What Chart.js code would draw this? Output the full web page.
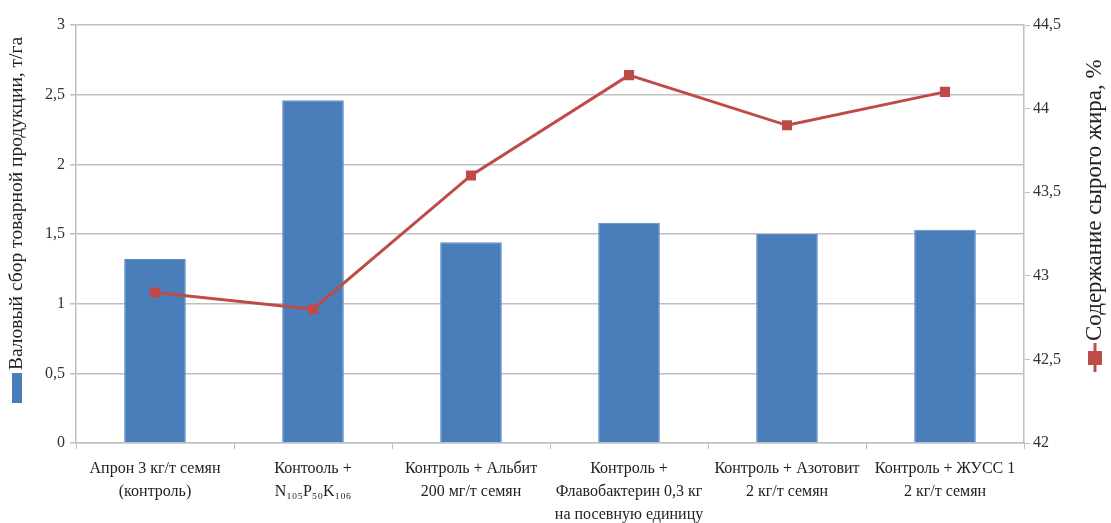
<!DOCTYPE html>
<html>
<head>
<meta charset="utf-8">
<script src="https://cdn.jsdelivr.net/npm/chart.js@4"></script>
<style>
  html, body { margin: 0; padding: 0; background: #fff; }
  #wrap { width: 1111px; height: 523px; }
</style>
</head>
<body>
<div id="wrap"><canvas id="chart" width="1111" height="523"></canvas></div>
<script>
// категории (подписи по оси X, многострочные)
const categories = [
    ['Апрон 3 кг/т семян', '(контроль)'],
    ['Контооль +', 'N₁₀₅P₅₀K₁₀₆'],
    ['Контроль + Альбит', '200 мг/т семян'],
    ['Контроль +', 'Флавобактерин 0,3 кг', 'на посевную единицу'],
    ['Контроль + Азотовит', '2 кг/т семян'],
    ['Контроль + ЖУСС 1', '2 кг/т семян']
];

// валовый сбор, т/га (столбцы)
const yieldValues = [1.32, 2.46, 1.44, 1.58, 1.50, 1.53];
// содержание сырого жира, % (линия)
const fatValues = [42.9, 42.8, 43.6, 44.2, 43.9, 44.1];

const leftTitle = 'Валовый сбор товарной продукции, т/га';
const rightTitle = 'Содержание сырого жира, %';

const barColor = '#4a7ebb';
const lineColor = '#be4b48';
const gridColor = '#c0c0c0';
const serif = "'Liberation Serif', 'DejaVu Serif', serif";

const comma = v => String(v).replace('.', ',');

// подписи осей вместе с маркерами легенды (как в Excel)
const axisTitles = {
    id: 'axisTitles',
    afterDraw(chart) {
        const ctx = chart.ctx;
        ctx.save();

        // левая ось
        ctx.font = '19.5px ' + serif;
        ctx.textBaseline = 'middle';
        ctx.textAlign = 'left';
        ctx.translate(17, 403);
        ctx.rotate(-Math.PI / 2);
        ctx.fillStyle = barColor;
        ctx.fillRect(0, -5, 30, 10);
        ctx.fillStyle = '#222';
        ctx.fillText(leftTitle, 33, 0);
        ctx.restore();

        // правая ось
        ctx.save();
        ctx.font = '23px ' + serif;
        ctx.textBaseline = 'middle';
        ctx.textAlign = 'left';
        ctx.translate(1095, 372);
        ctx.rotate(-Math.PI / 2);
        ctx.strokeStyle = lineColor;
        ctx.lineWidth = 3;
        ctx.beginPath();
        ctx.moveTo(0, 0);
        ctx.lineTo(29, 0);
        ctx.stroke();
        ctx.fillStyle = lineColor;
        ctx.fillRect(7, -7, 14, 14);
        ctx.fillStyle = '#222';
        ctx.fillText(rightTitle, 31, 0);
        ctx.restore();
    }
};

const canvas = document.getElementById('chart');
new Chart(canvas, {
    data: {
        labels: categories,
        datasets: [
            {
                type: 'line',
                label: rightTitle,
                data: fatValues,
                yAxisID: 'y1',
                borderColor: lineColor,
                backgroundColor: lineColor,
                borderWidth: 3,
                pointStyle: 'rect',
                pointRadius: 5,
                pointHoverRadius: 5,
                tension: 0,
                order: 0
            },
            {
                type: 'bar',
                label: leftTitle,
                data: yieldValues,
                yAxisID: 'y',
                backgroundColor: barColor,
                borderColor: '#5b8cc8',
                borderWidth: 1,
                barPercentage: 0.39,
                categoryPercentage: 1,
                order: 1
            }
        ]
    },
    options: {
        responsive: false,
        animation: false,
        maintainAspectRatio: false,
        layout: { padding: { top: 25 } },
        plugins: {
            legend: { display: false },
            tooltip: { enabled: false }
        },
        scales: {
            x: {
                offset: true,
                afterFit: s => { s.height = 80; },
                grid: {
                    offset: true,
                    drawOnChartArea: false,
                    color: gridColor,
                    tickLength: 6,
                    tickColor: gridColor
                },
                border: { color: gridColor, width: 1.5 },
                ticks: {
                    maxRotation: 0,
                    autoSkip: false,
                    padding: 8,
                    color: '#222',
                    font: { family: serif, size: 16, lineHeight: 1.44 }
                }
            },
            y: {
                position: 'left',
                min: 0,
                max: 3,
                afterFit: s => { s.width = 76; },
                grid: {
                    color: gridColor,
                    lineWidth: 1.5,
                    tickLength: 6,
                    tickColor: gridColor
                },
                border: { color: gridColor, width: 1.5 },
                ticks: {
                    stepSize: 0.5,
                    padding: 5,
                    color: '#333',
                    font: { family: serif, size: 16 },
                    callback: v => comma(v)
                }
            },
            y1: {
                position: 'right',
                min: 42,
                max: 44.5,
                afterFit: s => { s.width = 87; },
                grid: {
                    drawOnChartArea: false,
                    tickLength: 6,
                    tickColor: gridColor
                },
                border: { color: gridColor, width: 1.5 },
                ticks: {
                    stepSize: 0.5,
                    padding: 3,
                    color: '#333',
                    font: { family: serif, size: 16 },
                    callback: v => comma(v)
                }
            }
        }
    },
    plugins: [axisTitles]
});
</script>
</body>
</html>
